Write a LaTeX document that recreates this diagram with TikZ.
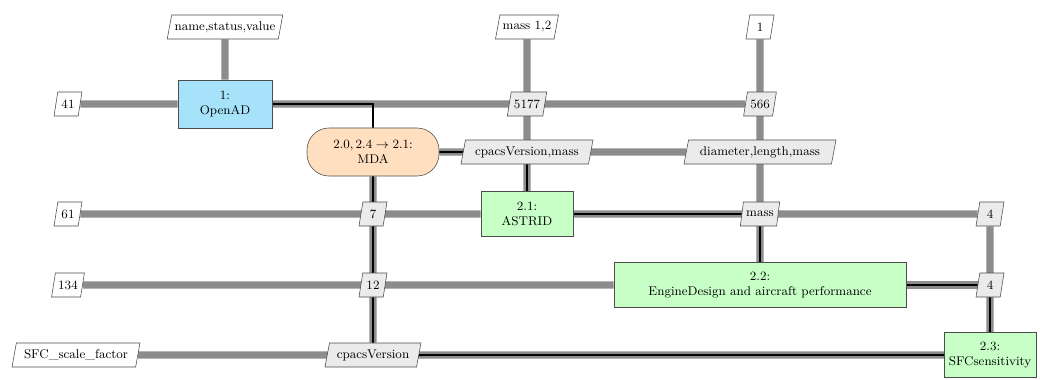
\documentclass[tikz,border=0pt]{standalone}
\usepackage{tikz}
\usetikzlibrary{shapes.geometric,calc,positioning}
\pgfdeclarelayer{dataflow}
\pgfdeclarelayer{procflow}
\pgfsetlayers{dataflow,procflow,main}
\begin{document}
\begin{tikzpicture}[font=\small,
io/.style = {trapezium, trapezium left angle=75, trapezium right angle=105, trapezium stretches body=true, draw=black!70, fill=white, inner sep=2pt, minimum height=0.6cm, minimum width=0.7cm},
datanode/.style = {io, fill=black!8},
func/.style = {rectangle, draw=black!70, fill=green!22, align=center, minimum height=1.12cm},
optim/.style = {rectangle, draw=black!70, fill=cyan!35, align=center, minimum height=1.2cm, minimum width=2.35cm},
mdanode/.style = {rectangle, rounded corners=0.55cm, draw=black!70, fill=orange!25, align=center, minimum height=1.2cm, minimum width=3.3cm},
dline/.style = {line width=5pt, draw=black!45},
pline/.style = {line width=1.5pt, draw=black},]
\useasboundingbox (0,0) rectangle (26,-9.5);
\node (opt) at (5.625,-2.6)[optim] {1:\\OpenAD};
\node (mda) at (9.325,-3.8)[mdanode] {$2.0, 2.4 \to 2.1$:\\MDA};
\node (astrid) at (13.175,-5.35)[func, minimum width=2.3cm] {2.1:\\ASTRID};
\node (eng) at (19.0,-7.125)[func, minimum width=7.3cm] {2.2:\\EngineDesign and aircraft performance};
\node (sfc) at (24.75,-8.875)[func, minimum width=2.2cm] {2.3:\\SFCsensitivity};
\node (outopt) at (5.625,-0.675)[io] {name,status,value};
\node (outastrid) at (13.175,-0.675)[io] {mass 1,2};
\node (outeng) at (19.0,-0.675)[io] {1};
\node (inopt) at (1.7,-2.6)[io] {41};
\node (inastrid) at (1.7,-5.35)[io] {61};
\node (ineng) at (1.7,-7.125)[io] {134};
\node (insfc) at (1.9,-8.875)[io, minimum width=3.2cm] {SFC\_scale\_factor};
\node (optastrid) at (13.175,-2.6)[datanode] {5177};
\node (opteng) at (19.0,-2.6)[datanode] {566};
\node (mdaastrid) at (13.175,-3.8)[datanode, minimum width=3.3cm] {cpacsVersion,mass};
\node (mdaeng) at (19.0,-3.8)[datanode, minimum width=3.8cm] {diameter,length,mass};
\node (astridmda) at (9.325,-5.35)[datanode] {7};
\node (astrideng) at (19.0,-5.35)[datanode] {mass};
\node (astridsfc) at (24.75,-5.35)[datanode] {4};
\node (engmda) at (9.325,-7.125)[datanode] {12};
\node (engsfc) at (24.75,-7.125)[datanode] {4};
\node (sfcmda) at (9.325,-8.875)[datanode, minimum width=2.4cm] {cpacsVersion};
\begin{pgfonlayer}{dataflow}
\draw[dline] (inopt) -- (opt);
\draw[dline] (opt) -- (outopt);
\draw[dline] (opt) -- (opteng);
\draw[dline] (outastrid) -- (astrid);
\draw[dline] (outeng) -- (eng);
\draw[dline] (mda) -- (sfcmda);
\draw[dline] (mda) -- (mdaeng);
\draw[dline] (inastrid) -- (astrid);
\draw[dline] (astrid) -- (astridsfc);
\draw[dline] (astridsfc) -- (sfc);
\draw[dline] (ineng) -- (eng);
\draw[dline] (eng) -- (engsfc);
\draw[dline] (insfc) -- (sfc);
\end{pgfonlayer}
\begin{pgfonlayer}{procflow}
\draw[pline] (opt) -| (mda);
\draw[pline] (mda) -| (astrid);
\draw[pline] (astrid) -| (eng);
\draw[pline] (eng) -| (sfc);
\draw[pline] (sfc) -| (mda);
\end{pgfonlayer}
\end{tikzpicture}
\end{document}
